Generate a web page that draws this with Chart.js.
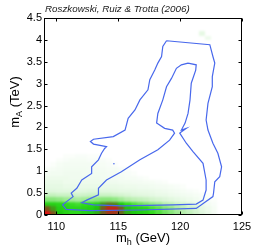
<!DOCTYPE html>
<html><head><meta charset="utf-8">
<script src="https://cdn.jsdelivr.net/npm/chart.js@4/dist/chart.umd.min.js"></script>
<style>html,body{margin:0;padding:0;background:#fff;overflow:hidden;}</style>
</head><body>
<canvas id="c" width="254" height="249"></canvas>
<script>
// ---------- data ----------
const titleText = 'Roszkowski, Ruiz & Trotta (2006)';
const xTicks = [110, 115, 120, 125];
const yTicks = [0, 0.5, 1, 1.5, 2, 2.5, 3, 3.5, 4, 4.5];

// posterior density grid: bins of 0.5 GeV in m_h starting at 109, 0.1 TeV in m_A starting at 0
const mhBinStart = 109, mhBinWidth = 0.5;
const maBinStart = 0, maBinWidth = 0.1;
const density = [
  [1.00,0.82,0.65,0.60,0.57,0.57,0.60,0.62,0.68,0.78,0.88,0.88,0.76,0.68,0.64,0.62,0.60,0.55,0.50,0.45,0.40,0.35,0.30,0.25,0.20,0.15,0.10,0.05,0,0,0,0],
  [0.80,0.70,0.62,0.60,0.58,0.58,0.60,0.62,0.66,0.80,0.95,0.95,0.80,0.66,0.62,0.60,0.58,0.52,0.48,0.42,0.38,0.32,0.28,0.22,0.18,0.12,0.08,0.04,0,0,0,0],
  [0.60,0.60,0.58,0.56,0.54,0.52,0.55,0.56,0.60,0.70,0.74,0.72,0.64,0.55,0.50,0.46,0.42,0.38,0.35,0.30,0.27,0.22,0.19,0.15,0.12,0.08,0.05,0.03,0,0,0,0],
  [0.40,0.40,0.38,0.35,0.34,0.32,0.34,0.36,0.38,0.40,0.40,0.38,0.34,0.30,0.27,0.25,0.23,0.20,0.18,0.16,0.14,0.12,0.10,0.08,0.06,0.04,0.03,0.02,0,0,0,0],
  [0.24,0.24,0.22,0.22,0.21,0.20,0.21,0.22,0.22,0.22,0.22,0.20,0.19,0.17,0.15,0.14,0.13,0.12,0.10,0.10,0.08,0.07,0.06,0.05,0.04,0.03,0.02,0,0,0,0,0],
  [0.15,0.15,0.14,0.14,0.14,0.13,0.14,0.15,0.15,0.14,0.14,0.13,0.12,0.12,0.11,0.10,0.10,0.09,0.08,0.07,0.06,0.05,0.04,0.03,0.02,0,0,0,0,0,0,0],
  [0.12,0.12,0.12,0.10,0.10,0.10,0.10,0.10,0.10,0.10,0.10,0.10,0.09,0.08,0.08,0.07,0.07,0.06,0.05,0.05,0.04,0.03,0.02,0,0,0,0,0,0,0,0,0],
  [0.10,0.10,0.10,0.08,0.08,0.08,0.08,0.08,0.08,0.08,0.07,0.07,0.06,0.06,0.05,0.05,0.04,0.04,0.03,0.02,0,0,0,0,0,0,0,0,0,0,0,0],
  [0.08,0.08,0.08,0.08,0.07,0.07,0.07,0.07,0.07,0.06,0.06,0.05,0.05,0.04,0.04,0.03,0.02,0,0,0,0,0,0,0,0,0,0,0,0,0,0,0],
  [0.05,0.06,0.06,0.07,0.07,0.07,0.06,0.06,0.06,0.06,0.05,0.05,0.04,0.03,0.02,0,0,0,0,0,0,0,0,0,0,0,0,0,0,0,0,0],
  [0.03,0.04,0.05,0.06,0.06,0.06,0.06,0.05,0.05,0.05,0.04,0.04,0.03,0.02,0,0,0,0,0,0,0,0,0,0,0,0,0,0,0,0,0,0],
  [0,0.02,0.04,0.05,0.05,0.05,0.05,0.05,0.04,0.04,0.03,0.02,0,0,0,0,0,0,0,0,0,0,0,0,0,0,0,0,0,0,0,0],
  [0,0,0.02,0.03,0.04,0.04,0.04,0.03,0.03,0.03,0.02,0,0,0,0,0,0,0,0,0,0,0,0,0,0,0,0,0,0,0,0,0],
  [0,0,0,0.02,0.02,0.03,0.03,0.02,0.02,0,0,0,0,0,0,0,0,0,0,0,0,0,0,0,0,0,0,0,0,0,0,0]
];
// isolated faint cells near the top
const spotMh = [121.5, 122.0];
const spotMa = [4.1, 4.0];
const spotVal = [0.12, 0.08];

// 95% contour
const outerMh = [118.9,122.4,122.65,122.8,122.6,122.6,122.25,122.1,122.25,122.65,123.05,123.35,123.2,122.8,122.7,122.65,121.3,116.75,112.7,110.8,110.5,110.8,111.35,111.2,111.65,112.05,112.85,112.85,113.4,113.65,113.9,114.05,113.0,112.75,113.0,114.6,115.55,115.8,116.35,116.75,117.4,117.55,117.95,118.2,118.5,118.6,118.9];
const outerMa = [3.98,3.89,3.62,3.47,3.16,2.93,2.55,2.17,1.94,1.64,1.41,1.10,0.875,0.76,0.50,0.42,0.15,0.114,0.10,0.13,0.23,0.30,0.42,0.50,0.61,0.80,0.95,1.10,1.26,1.41,1.52,1.56,1.62,1.68,1.73,1.79,1.94,2.21,2.40,2.63,2.86,3.09,3.31,3.47,3.62,3.85,3.98];
// 68% contour
const innerMh = [120.64,121.3,121.26,120.9,120.8,120.64,120.4,120.1,120.5,119.97,120.5,121.04,121.85,122.1,122.1,121.85,121.3,119.4,115.4,113.0,112.05,112.45,113.4,113.4,114.05,115.25,116.75,118.2,119.15,119.55,119.4,118.75,118.1,118.2,118.6,118.9,119.3,119.7,120.1,120.64];
const innerMa = [3.47,3.43,3.31,3.01,2.63,2.32,2.10,1.94,1.98,1.87,1.64,1.45,1.18,0.80,0.57,0.34,0.25,0.23,0.21,0.23,0.28,0.34,0.46,0.61,0.80,0.99,1.26,1.49,1.71,1.87,1.94,1.98,2.10,2.32,2.63,2.93,3.12,3.35,3.43,3.47];
// tiny isolated contour
const dotMh = [114.65];
const dotMa = [1.17];

// ---------- styling / drawing ----------
const FONT = '"Liberation Sans", Arial, Helvetica, sans-serif';
const BLUE = 'rgb(72,104,236)';
const stops = [
  [0.00, [255,255,255]],
  [0.05, [244,252,243]],
  [0.15, [224,247,221]],
  [0.30, [181,238,171]],
  [0.45, [112,226,96]],
  [0.55, [50,220,30]],
  [0.65, [28,200,16]],
  [0.75, [100,110,30]],
  [0.85, [140,70,30]],
  [1.00, [220,20,20]]
];
function colorFor(v) {
  for (let i = 1; i < stops.length; i++) {
    if (v <= stops[i][0]) {
      const [a, ca] = stops[i-1], [b, cb] = stops[i];
      const t = (v - a) / (b - a);
      const c = ca.map((k, j) => Math.round(k + (cb[j] - k) * t));
      return `rgb(${c[0]},${c[1]},${c[2]})`;
    }
  }
  const c = stops[stops.length-1][1];
  return `rgb(${c[0]},${c[1]},${c[2]})`;
}
function pts(xs, ys) { return xs.map((x, i) => ({x: x, y: ys[i]})); }

const heatPlugin = {
  id: 'heat',
  beforeDatasetsDraw(chart) {
    const {ctx, chartArea: a, scales: {x, y}} = chart;
    const off = document.createElement('canvas');
    off.width = chart.width; off.height = chart.height;
    const o = off.getContext('2d');
    o.fillStyle = '#fff'; o.fillRect(0, 0, off.width, off.height);
    const cell = (mh0, ma0, v, extL, extB) => {
      if (v <= 0) return;
      let x0 = Math.round(x.getPixelForValue(mh0));
      const x1 = Math.round(x.getPixelForValue(mh0 + mhBinWidth));
      let y0 = Math.round(y.getPixelForValue(ma0));
      const y1 = Math.round(y.getPixelForValue(ma0 + maBinWidth));
      if (extL) x0 -= 6;
      if (extB) y0 += 6;
      o.fillStyle = colorFor(v);
      o.fillRect(x0, y1, x1 - x0, y0 - y1);
    };
    density.forEach((row, r) => row.forEach((v, c) =>
      cell(mhBinStart + c * mhBinWidth, maBinStart + r * maBinWidth, v, c === 0, r === 0)));
    spotVal.forEach((v, i) => cell(spotMh[i], spotMa[i], v, false, false));
    ctx.save();
    ctx.beginPath(); ctx.rect(a.left, a.top, a.right - a.left, a.bottom - a.top); ctx.clip();
    ctx.filter = 'blur(1px)';
    ctx.drawImage(off, 0, 0);
    ctx.filter = 'none';
    ctx.restore();
  }
};

const framePlugin = {
  id: 'frame',
  afterDraw(chart) {
    const {ctx, chartArea: a, scales: {x, y}} = chart;
    ctx.save();
    ctx.strokeStyle = '#000';
    ctx.lineWidth = 1;
    const L = Math.round(a.left) + 0.5, R = Math.round(a.right) - 0.5;
    const T = Math.round(a.top) + 0.5, B = Math.round(a.bottom) - 0.5;
    ctx.strokeRect(L, T, R - L, B - T);
    const tl = 3;
    ctx.beginPath();
    xTicks.forEach(v => {
      const px = Math.round(x.getPixelForValue(v)) + 0.5;
      ctx.moveTo(px, B); ctx.lineTo(px, B - tl);
      ctx.moveTo(px, T); ctx.lineTo(px, T + tl);
    });
    yTicks.forEach(v => {
      const py = Math.round(y.getPixelForValue(v)) + 0.5;
      ctx.moveTo(L, py); ctx.lineTo(L + tl, py);
      ctx.moveTo(R, py); ctx.lineTo(R - tl, py);
    });
    ctx.stroke();

    // title
    ctx.font = `italic 9.8px ${FONT}`;
    ctx.fillStyle = '#222';
    ctx.textBaseline = 'alphabetic';
    ctx.textAlign = 'left';
    ctx.fillText(titleText, a.left + 1, 12);

    // x title: m_h (GeV)
    ctx.fillStyle = '#000';
    const big = `13px ${FONT}`, small = `9px ${FONT}`;
    const parts = [['m', big, 0], ['h', small, 3], [' (GeV)', big, 0]];
    const widths = parts.map(p => { ctx.font = p[1]; return ctx.measureText(p[0]).width; });
    let cx = (a.left + a.right) / 2 - widths.reduce((s, w) => s + w, 0) / 2;
    parts.forEach((p, i) => { ctx.font = p[1]; ctx.fillText(p[0], cx, 242 + p[2]); cx += widths[i]; });

    // y title: m_A (TeV)
    const yparts = [['m', big, 0], ['A', small, 3], [' (TeV)', big, 0]];
    const yw = yparts.map(p => { ctx.font = p[1]; return ctx.measureText(p[0]).width; });
    ctx.translate(19, 102);
    ctx.rotate(-Math.PI / 2);
    let cy = -yw.reduce((s, w) => s + w, 0) / 2;
    yparts.forEach((p, i) => { ctx.font = p[1]; ctx.fillText(p[0], cy, p[2]); cy += yw[i]; });
    ctx.restore();
  }
};

new Chart(document.getElementById('c').getContext('2d'), {
  type: 'scatter',
  data: {
    datasets: [
      {data: pts(outerMh, outerMa), showLine: true, borderColor: BLUE, borderWidth: 1.2, pointRadius: 0, fill: false, tension: 0},
      {data: pts(innerMh, innerMa), showLine: true, borderColor: BLUE, borderWidth: 1.2, pointRadius: 0, fill: false, tension: 0},
      {data: pts(dotMh, dotMa), showLine: false, pointRadius: 0.8, pointBackgroundColor: BLUE, pointBorderWidth: 0}
    ]
  },
  options: {
    responsive: false,
    animation: false,
    devicePixelRatio: 1,
    layout: {padding: {top: 18, right: 12, left: 0, bottom: 0}},
    plugins: {legend: {display: false}, tooltip: {enabled: false}, title: {display: false}},
    scales: {
      x: {
        type: 'linear', min: 109, max: 125,
        afterBuildTicks: s => { s.ticks = xTicks.map(v => ({value: v})); },
        afterFit: s => { s.height = 34; s.paddingLeft = 0; s.paddingRight = 0; },
        grid: {display: false, drawTicks: false},
        border: {display: false},
        ticks: {color: '#000', font: {family: FONT, size: 11}, padding: 5, maxRotation: 0, autoSkip: false, callback: v => String(v)}
      },
      y: {
        type: 'linear', min: 0, max: 4.5,
        afterBuildTicks: s => { s.ticks = yTicks.map(v => ({value: v})); },
        afterFit: s => { s.width = 44; s.paddingTop = 0; s.paddingBottom = 0; },
        grid: {display: false, drawTicks: false},
        border: {display: false},
        ticks: {color: '#000', font: {family: FONT, size: 11}, padding: 2, autoSkip: false, callback: v => String(v)}
      }
    }
  },
  plugins: [heatPlugin, framePlugin]
});
</script>
</body></html>
